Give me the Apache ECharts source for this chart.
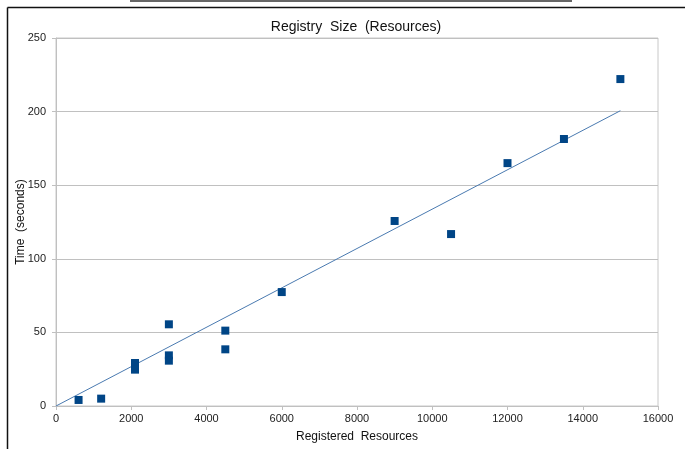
<!DOCTYPE html>
<html><head><meta charset="utf-8">
<script src="https://cdn.jsdelivr.net/npm/echarts@6/dist/echarts.min.js"></script>
<style>html,body{margin:0;padding:0;background:#fff}#c{width:685px;height:449px}</style>
</head><body><div id="c"></div>
<script>
const resources = [600, 1200, 2100, 2100, 3000, 3000, 3000, 4500, 4500, 6000, 9000, 10500, 12000, 13500, 15000];
const times = [4.1, 5.0, 29.2, 24.7, 55.5, 34.4, 30.8, 51.2, 38.5, 77.4, 125.7, 116.8, 165.0, 181.4, 222.1];
const trendX = [0, 15000];
const trendY = [0, 200.6];
const title = 'Registry  Size  (Resources)';
const xName = 'Registered  Resources';
const yName = 'Time  (seconds)';

const chart = echarts.init(document.getElementById('c'));
const font = 'Liberation Sans, Arial, sans-serif';
chart.setOption({
  animation: false,
  title: {text: title, left: 351, top: 15, textAlign: 'center',
    textStyle: {fontFamily: font, fontSize: 14, fontWeight: 'normal', color: '#111'}},
  grid: {left: 56, right: 27, top: 38, bottom: 43, show: true, borderColor: '#c8c8c8', borderWidth: 1,
    containLabel: false, outerBoundsMode: 'none'},
  graphic: [
    {type: 'line', shape: {x1: 7.5, y1: 7.5, x2: 685, y2: 7.5}, style: {stroke: '#111', lineWidth: 1.5}},
    {type: 'line', shape: {x1: 7.5, y1: 7.5, x2: 7.5, y2: 449}, style: {stroke: '#111', lineWidth: 1.5}},
    {type: 'rect', shape: {x: 130, y: 0, width: 442, height: 2}, style: {fill: '#666'}}
  ],
  xAxis: {type: 'value', min: 0, max: 16000, interval: 2000,
    name: xName, nameLocation: 'middle', nameGap: 25, nameMoveOverlap: false,
    nameTextStyle: {fontFamily: font, fontSize: 12, color: '#111'},
    axisLine: {show: true, lineStyle: {color: '#c0c0c0'}},
    axisTick: {show: true, length: 4, lineStyle: {color: '#c0c0c0'}},
    axisLabel: {fontFamily: font, fontSize: 11, color: '#222', margin: 7, formatter: v => String(v)},
    splitLine: {show: false}},
  yAxis: {type: 'value', min: 0, max: 250, interval: 50,
    name: yName, nameLocation: 'middle', nameGap: 29, nameRotate: 90, nameMoveOverlap: false,
    nameTextStyle: {fontFamily: font, fontSize: 12, color: '#111'},
    axisLine: {show: true, lineStyle: {color: '#c0c0c0'}},
    axisTick: {show: true, length: 4, lineStyle: {color: '#c0c0c0'}},
    axisLabel: {fontFamily: font, fontSize: 11, color: '#222', margin: 10},
    splitLine: {show: true, lineStyle: {color: '#c0c0c0'}}},
  series: [
    {type: 'line', data: trendX.map((x, i) => [x, trendY[i]]), symbol: 'none',
      lineStyle: {color: '#4a7ab0', width: 1}, silent: true, z: 2},
    {type: 'scatter', data: resources.map((x, i) => [x, times[i]]), symbol: 'rect', symbolSize: 8,
      itemStyle: {color: '#004586', opacity: 1}, z: 3}
  ]
});
</script></body></html>
